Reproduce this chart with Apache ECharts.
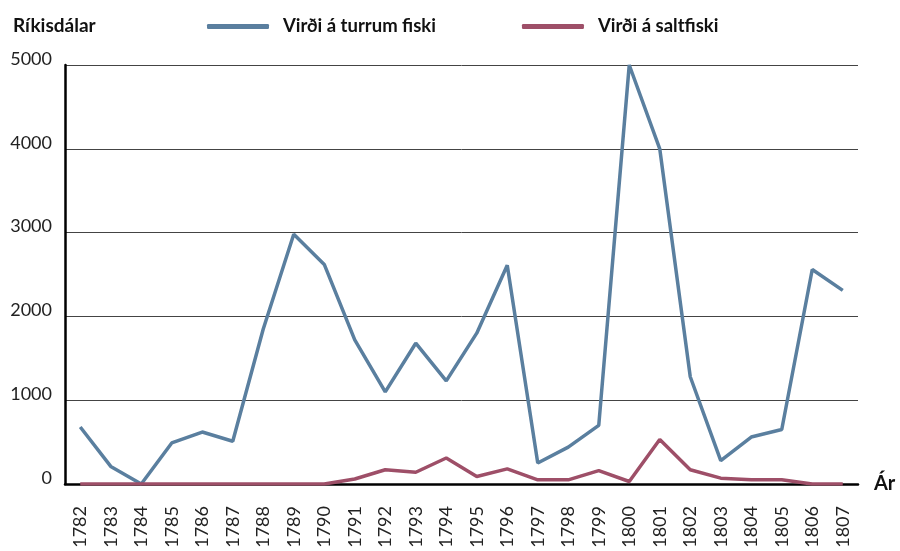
<!DOCTYPE html>
<html>
<head>
<meta charset="utf-8">
<script src="https://cdn.jsdelivr.net/npm/echarts@6/dist/echarts.min.js"></script>
<style>
	html, body { margin: 0; padding: 0; background: #fff; }
	#chart { width: 900px; height: 551px; }
</style>
</head>
<body>
<div id="chart"></div>
<script>
	var years = [ '1782', '1783', '1784', '1785', '1786', '1787', '1788', '1789', '1790', '1791', '1792', '1793', '1794',
		'1795', '1796', '1797', '1798', '1799', '1800', '1801', '1802', '1803', '1804', '1805', '1806', '1807' ];
	var turrfiskur = [ 680, 210, 0, 490, 620, 510, 1850, 2980, 2620, 1720, 1100, 1680, 1230,
		1800, 2610, 250, 440, 700, 5000, 4000, 1280, 280, 560, 650, 2560, 2310 ];
	var saltfiskur = [ 0, 0, 0, 0, 0, 0, 0, 0, 0, 60, 170, 140, 310,
		90, 180, 50, 50, 160, 30, 530, 170, 70, 50, 50, 0, 0 ];

	var fontName = 'Lato';
	var chart = echarts.init( document.getElementById( 'chart' ) );

	var option = {
		animation: false,
		title: {
			text: 'Ríkisdálar',
			left: 8,
			top: 11,
			textStyle: { fontFamily: fontName, fontSize: 19, fontWeight: 'bold', color: '#111' }
		},
		legend: {
			left: 202,
			top: 12,
			itemWidth: 62,
			itemHeight: 5,
			itemGap: 86,
			icon: 'roundRect',
			textStyle: { fontFamily: fontName, fontSize: 18.5, fontWeight: 'bold', color: '#111', padding: [ 0, 0, 0, 9 ] },
			data: [ 'Virði á turrum fiski', 'Virði á saltfiski' ]
		},
		grid: { left: 65, right: 42, top: 65, bottom: 67 },
		xAxis: {
			type: 'category',
			data: years,
			boundaryGap: true,
			name: 'Ár',
			nameGap: 16,
			nameTextStyle: { fontFamily: fontName, fontSize: 20, fontWeight: 'bold', color: '#111', verticalAlign: 'middle' },
			axisLine: { lineStyle: { color: '#000', width: 2.5 } },
			axisTick: { length: 10, lineStyle: { color: '#555', width: 1.5 } },
			axisLabel: { rotate: 90, margin: 22, fontFamily: fontName, fontSize: 18, color: '#222', interval: 0 }
		},
		yAxis: {
			type: 'value',
			min: 0,
			max: 5000,
			interval: 1000,
			axisLine: { show: true, lineStyle: { color: '#000', width: 2.5 } },
			axisTick: { show: false },
			splitLine: { lineStyle: { color: '#444', width: 1 } },
			axisLabel: {
				margin: 13,
				verticalAlign: 'bottom',
				lineHeight: 12,
				fontFamily: fontName,
				fontSize: 18,
				color: '#222',
				formatter: function( v ) {
					return String( v );
				}
			}
		},
		series: [
			{
				name: 'Virði á turrum fiski',
				type: 'line',
				data: turrfiskur,
				symbol: 'none',
				lineStyle: { width: 3.5, color: '#5a7f9f' },
				itemStyle: { color: '#5a7f9f' }
			}, {
				name: 'Virði á saltfiski',
				type: 'line',
				data: saltfiskur,
				symbol: 'none',
				lineStyle: { width: 3.5, color: '#9e4f68' },
				itemStyle: { color: '#9e4f68' }
			}
		]
	};

	chart.setOption( option );
</script>
</body>
</html>
